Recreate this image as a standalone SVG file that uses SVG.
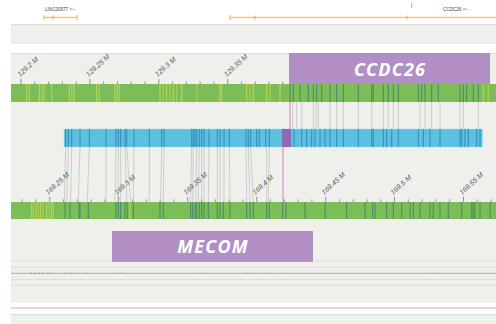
<svg xmlns="http://www.w3.org/2000/svg" width="496" height="324" viewBox="0 0 496 324">
<style>
.bg{fill:#efefeb}
.sep{stroke:#dcdcd8;stroke-width:1;fill:none}
.gene{stroke:#f6c27c;stroke-width:1.4;fill:none}
.gtick{stroke:#f0a850;stroke-width:1;fill:none}
.glab{font-family:"Liberation Sans",Arial,sans-serif;font-size:4.6px;fill:#444}
.tick{stroke:#7a7a7a;stroke-width:0.8;fill:none}
.tlab{font-family:"Liberation Sans",Arial,sans-serif;font-size:7px;font-style:italic;fill:#5a5a5a}
.green{fill:#7dbd57}
.blue{fill:#5cc0e0;stroke:#9fdcef;stroke-width:0.6}
.ys{stroke:#bdd54c;stroke-width:1.1;fill:none}
.ys2{stroke:#a6cd50;stroke-width:1.4;fill:none}
.ds{stroke:#3f7d6e;stroke-width:1;fill:none;opacity:0.85}
.bs{stroke:#2d7fb2;stroke-width:1;fill:none;opacity:0.85}
.conn{stroke:#c4c4c2;stroke-width:0.8;fill:none}
.pink{stroke:#e277b8;stroke-width:1;fill:none}
.node{fill:#b18fc5}
.ntxt{font-family:"Open Sans","Liberation Sans",sans-serif;font-size:18px;font-weight:bold;font-style:italic;fill:#ffffff;text-anchor:middle;letter-spacing:1.2px}
</style>
<rect x="0" y="0" width="496" height="324" fill="#ffffff"/>

<g id="gene-track">
  <text class="glab" x="45" y="11">LINC00977 &lt;--</text>
  <path class="gene" d="M44 17.5H77"/>
  <path class="gtick" d="M44 15v5M53 15.5v4M77 15v5" />
  <path class="gene" d="M230 17.5H496"/>
  <path class="gtick" d="M230 15v5M255 15.5v4M407 15.5v4M411.7 3v5"/>
  <text class="glab" x="443" y="11">CCDC26 &lt;--</text>
</g>

<g id="bands">
  <rect class="bg" x="11" y="24" width="485" height="19"/>
  <path class="sep" d="M11 24.5H496M11 43H496"/>
  <rect class="bg" x="11" y="53" width="485" height="250"/>
  <path class="sep" d="M11 53.5H496"/>
  <rect x="11" y="303" width="485" height="11.5" fill="#ffffff"/>
  <path d="M11 308H496" stroke="#f0a2a2" stroke-width="1.2"/>
  <path class="sep" d="M11 314.5H496"/>
  <rect class="bg" x="11" y="315" width="485" height="9"/>
  <path d="M11 261H496M11 267.3H496M11 279.3H496M11 285.3H496" stroke="#dfdfdb" stroke-width="1.2"/>
  <path d="M11 273.3H496" stroke="#7fcf6e" stroke-width="1"/>
  <path d="M30 273.3h2M34 273.3h2M38 273.3h1.5M42 273.3h2M47 273.3h2M51 273.3h1.5M65 273.3h1.5M70 273.3h1.5M77 273.3h1.5M87 273.3h1.5M117 273.3h1.5M122 273.3h1.5M193 273.3h1M203 273.3h1M247 273.3h1M250 273.3h1M257 273.3h1M268 273.3h1M286 273.3h1M429 273.3h1M436 273.3h1" stroke="#d98a80" stroke-width="1.2"/>
</g>

<g id="axis-top">
  <path class="tick" d="M21 79v5M34.8 81.5v2.5M48.6 81.5v2.5M62.3 81.5v2.5M76.1 81.5v2.5M89.9 79v5M103.7 81.5v2.5M117.5 81.5v2.5M131.2 81.5v2.5M145 81.5v2.5M158.8 79v5M172.6 81.5v2.5M186.4 81.5v2.5M200.1 81.5v2.5M213.9 81.5v2.5M227.7 79v5M241.5 81.5v2.5M255.3 81.5v2.5M269 81.5v2.5M282.8 81.5v2.5"/>
  <text class="tlab" transform="translate(20 77) rotate(-42)">129.2 M</text>
  <text class="tlab" transform="translate(88.5 77) rotate(-42)">129.25 M</text>
  <text class="tlab" transform="translate(157.5 77) rotate(-42)">129.3 M</text>
  <text class="tlab" transform="translate(226.5 77) rotate(-42)">129.35 M</text>
</g>

<g id="track-ccdc26-region">
  <rect class="green" x="11" y="84" width="485" height="18"/>
  <path class="ys" d="M26.7 84v18M29.3 84v18M39.3 84v18M44 84v18M69.3 84v18M74 84v18M96.7 84v18M115 84v18M117.3 84v18M160 84v18M166.7 84v18M173.3 84v18M181.7 84v18M220 84v18M246.7 84v18M253.3 84v18M266.7 84v18M280 84v18M483.3 84v18"/>
  <path class="ys2" d="M41.7 84v18M51.7 84v18M71.7 84v18M99.3 84v18M119.3 84v18M163.3 84v18M170 84v18M176.7 84v18M196.7 84v18M221.7 84v18M250 84v18M270 84v18M488.3 84v18"/>
  <path class="ds" d="M290 84v18M293.3 84v18M300 84v18M308.3 84v18M313.3 84v18M316.7 84v18M321.7 84v18M330 84v18M336.7 84v18M343.3 84v18M358.3 84v18M371.7 84v18M373.3 84v18M383.3 84v18M388.3 84v18M393.3 84v18M398.3 84v18M418.3 84v18M421.7 84v18M425 84v18M431.7 84v18M438.3 84v18M460 84v18M463.3 84v18M466.7 84v18M473.3 84v18M478.3 84v18"/>
</g>

<g id="connectors">
  <path class="conn" d="M292.7 102v27M296.7 102v27M301.7 102v27M313.3 102v27M316 102v27M318.3 102v27M330 102v27M336.7 102v27M343.3 102v27M358.3 102v27M371.7 102v27M383.3 102v27M388.3 102v27M393.3 102v27M398.3 102v27M420 102v27M425 102v27M431.7 102v27M440 102v27M460 102v27M463.3 102v27M478.3 102v27"/>
  <path class="conn" d="M65.7 147L64.3 202M68.3 147L66.7 202M71.7 147L70.7 202M80 147L78.3 202M89.3 147L87.3 202M106 147L106 202M116 147L115 202M118.3 147L118 202M120.7 147L120.7 202M125 147L126.7 202M126.7 147L130.7 202M134 147L133.3 202M149.3 147L149.3 202M161.7 147L160.7 202M164 147L163.3 202M191.7 147L190.7 202M193.3 147L192.7 202M196.7 147L196 202M199.3 147L198.3 202M201.7 147L201.7 202M204 147L204 202M209 147L208.3 202M217.3 147L217.3 202M220 147L220 202M224 147L224 202M229.3 147L230 202M246 147L246.7 202M248.3 147L250 202M250.7 147L253.3 202M266.7 147L266.7 202M269.3 147L268.3 202"/>
  <path class="pink" d="M290 102v27M283 147v55"/>
</g>

<g id="track-blue">
  <rect class="blue" x="64" y="129" width="418.5" height="18"/>
  <path class="bs" d="M65.7 129v18M68.3 129v18M71.7 129v18M80 129v18M89.3 129v18M106 129v18M116 129v18M118.3 129v18M120.7 129v18M125 129v18M126.7 129v18M134 129v18M149.3 129v18M161.7 129v18M164 129v18M191.7 129v18M193.3 129v18M195 129v18M196.7 129v18M199.3 129v18M201.7 129v18M204 129v18M209 129v18M217.3 129v18M220 129v18M224 129v18M229.3 129v18M246 129v18M248.3 129v18M250.7 129v18M256.7 129v18M259.3 129v18M265.7 129v18M269.3 129v18M294 129v18M301.7 129v18M306.7 129v18M311.7 129v18M315 129v18M320 129v18M325 129v18M330 129v18M336.7 129v18M343.3 129v18M358.3 129v18M371.7 129v18M373.3 129v18M383.3 129v18M386.7 129v18M391.7 129v18M398.3 129v18M418.3 129v18M423.3 129v18M430 129v18M440 129v18M460 129v18M461.7 129v18M465 129v18M468.3 129v18M476.7 129v18M480 129v18"/>
  <rect x="282" y="129" width="9" height="18" fill="#8e69b4"/>
</g>

<g id="axis-bottom">
  <path class="tick" d="M22.1 199.3v2.5M35.9 199.3v2.5M49.7 196.7v5M63.5 199.3v2.5M77.3 199.3v2.5M91.1 199.3v2.5M104.9 199.3v2.5M118.7 196.7v5M132.5 199.3v2.5M146.3 199.3v2.5M160.1 199.3v2.5M173.9 199.3v2.5M187.7 196.7v5M201.5 199.3v2.5M215.3 199.3v2.5M229.1 199.3v2.5M242.9 199.3v2.5M256.7 196.7v5M270.5 199.3v2.5M284.3 199.3v2.5M298.1 199.3v2.5M311.9 199.3v2.5M325.7 196.7v5M339.5 199.3v2.5M353.3 199.3v2.5M367.1 199.3v2.5M380.9 199.3v2.5M394.5 196.7v5M408.3 199.3v2.5M422.1 199.3v2.5M435.9 199.3v2.5M449.7 199.3v2.5M463.5 196.7v5M477.3 199.3v2.5M491.1 199.3v2.5"/>
  <text class="tlab" transform="translate(48 195) rotate(-42)">169.25 M</text>
  <text class="tlab" transform="translate(117 195) rotate(-42)">169.3 M</text>
  <text class="tlab" transform="translate(186 195) rotate(-42)">169.35 M</text>
  <text class="tlab" transform="translate(255 195) rotate(-42)">169.4 M</text>
  <text class="tlab" transform="translate(324 195) rotate(-42)">169.45 M</text>
  <text class="tlab" transform="translate(393 195) rotate(-42)">169.5 M</text>
  <text class="tlab" transform="translate(462 195) rotate(-42)">169.55 M</text>
</g>

<g id="track-mecom-region">
  <rect class="green" x="11" y="202" width="485" height="17"/>
  <path class="ys" d="M31.7 202v17M36 202v17M40.7 202v17M46.7 202v17M51.7 202v17M130 202v17"/>
  <path class="ys2" d="M33.3 202v17M38.3 202v17M43.3 202v17M49.3 202v17M53.3 202v17"/>
  <path class="ds" d="M65 202v17M70 202v17M79 202v17M80 202v17M88.3 202v17M116 202v17M118.3 202v17M120.7 202v17M125 202v17M127.3 202v17M133.3 202v17M160 202v17M163.3 202v17M190.7 202v17M192.7 202v17M195 202v17M196.7 202v17M199.3 202v17M201.7 202v17M204 202v17M208.3 202v17M217.3 202v17M220 202v17M223.3 202v17M230 202v17M246.7 202v17M250 202v17M253.3 202v17M266.7 202v17M269.3 202v17M282.7 202v17M286 202v17M305 202v17M325 202v17M346.7 202v17M365 202v17M372.7 202v17M375 202v17M386.7 202v17M393.3 202v17M401.7 202v17M410 202v17M413.3 202v17M420 202v17M430 202v17M433.3 202v17M440 202v17M448.3 202v17M461.7 202v17M471.7 202v17M473.3 202v17M475 202v17M480 202v17M490 202v17"/>
</g>

<g id="node-ccdc26">
  <rect class="node" x="289" y="53" width="201" height="31"/>
  <text class="ntxt" x="390" y="76">CCDC26</text>
</g>

<g id="node-mecom">
  <rect class="node" x="112" y="231" width="201" height="31"/>
  <text class="ntxt" x="213" y="253">MECOM</text>
</g>
</svg>
